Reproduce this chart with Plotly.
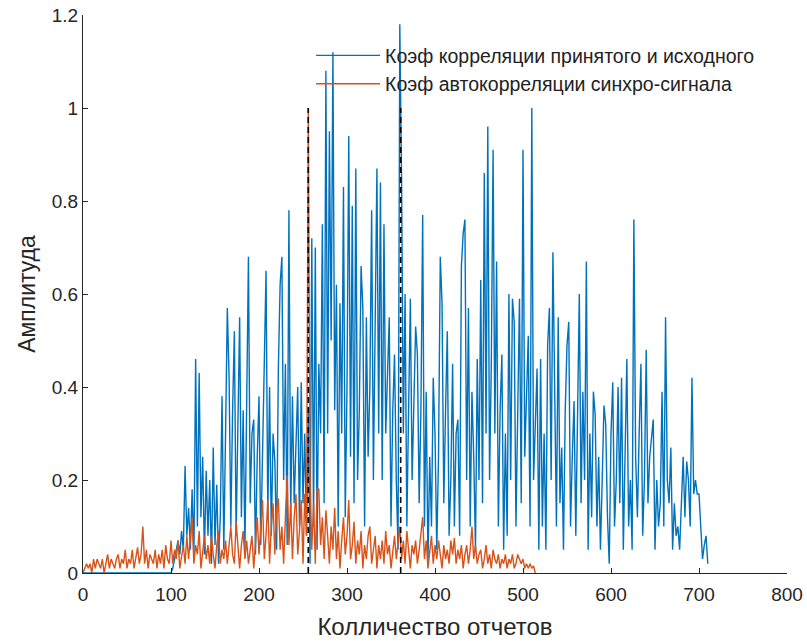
import plotly.graph_objects as go

# ---- data ----
blue_start = 0
blue_step = 2
blue_vals = (
    [0.0] * 50 +
    [0.00, 0.01, 0.03, 0.05, 0.07, 0.04, 0.09, 0.05, 0.23, 0.08,
     0.14, 0.05, 0.18, 0.03, 0.46, 0.10, 0.43, 0.12, 0.25, 0.04,
     0.22, 0.08, 0.20, 0.02, 0.27, 0.06, 0.19, 0.02, 0.12, 0.38,
     0.05, 0.30, 0.57, 0.42, 0.10, 0.35, 0.52, 0.08, 0.30, 0.55,
     0.12, 0.35, 0.05, 0.40, 0.68, 0.15, 0.30, 0.33, 0.04, 0.25,
     0.38, 0.06, 0.30, 0.45, 0.65, 0.12, 0.40, 0.08, 0.30, 0.24,
     0.05, 0.44, 0.62, 0.68, 0.20, 0.45, 0.06, 0.78, 0.12, 0.38,
     0.15, 0.30, 0.40, 0.10, 0.41, 0.15, 0.30, 0.08, 0.35, 0.02,
     0.72, 0.10, 0.70, 0.05, 0.45, 0.30, 0.75, 0.15, 1.08, 0.30,
     0.95, 0.50, 1.12, 0.35, 0.62, 0.10, 0.58, 0.30, 0.83, 0.12,
     0.40, 0.94, 0.25, 0.79, 0.15, 0.87, 0.20, 0.35, 0.66, 0.57,
     0.10, 0.55, 0.25, 0.40, 0.78, 0.20, 0.50, 0.87, 0.30, 0.84,
     0.20, 0.75, 0.30, 0.45, 0.55, 0.10, 0.35, 0.47, 0.20, 0.05,
     1.18, 0.85, 0.30, 0.60, 0.10, 0.35, 0.59, 0.20, 0.40, 0.53,
     0.47, 0.15, 0.35, 0.77, 0.10, 0.39, 0.02, 0.25, 0.10, 0.42,
     0.30, 0.05, 0.25, 0.68, 0.58, 0.15, 0.35, 0.52, 0.08, 0.20,
     0.45, 0.10, 0.30, 0.33, 0.08, 0.66, 0.73, 0.76, 0.20, 0.57,
     0.10, 0.39, 0.25, 0.05, 0.46, 0.20, 0.63, 0.15, 0.86, 0.30,
     0.96, 0.20, 0.45, 0.91, 0.30, 0.67, 0.10, 0.35, 0.47, 0.05,
     0.30, 0.08, 0.60, 0.20, 0.59, 0.54, 0.10, 0.35, 0.59, 0.15,
     0.91, 0.25, 0.40, 0.51, 0.10, 1.00, 0.20, 0.35, 0.44, 0.05,
     0.46, 0.10, 0.30, 0.05, 0.49, 0.57, 0.20, 0.69, 0.33, 0.10,
     0.55, 0.15, 0.27, 0.05, 0.35, 0.49, 0.54, 0.10, 0.25, 0.37,
     0.08, 0.30, 0.60, 0.15, 0.39, 0.20, 0.67, 0.05, 0.30, 0.12,
     0.39, 0.34, 0.10, 0.25, 0.05, 0.20, 0.36, 0.32, 0.12, 0.02,
     0.30, 0.41, 0.10, 0.20, 0.40, 0.15, 0.42, 0.05, 0.25, 0.46,
     0.10, 0.20, 0.05, 0.76, 0.25, 0.12, 0.30, 0.45, 0.08, 0.20,
     0.48, 0.15, 0.25, 0.30, 0.33, 0.05, 0.20, 0.10, 0.15, 0.39,
     0.10, 0.55, 0.20, 0.15, 0.27, 0.05, 0.15, 0.08, 0.10, 0.05,
     0.15, 0.25, 0.12, 0.24, 0.20, 0.10, 0.42, 0.17, 0.20, 0.17,
     0.17, 0.10, 0.03, 0.06, 0.08, 0.02]
)

orange_start = 0
orange_step = 2
orange_vals = [
    0.00, 0.01, 0.02, 0.01, 0.02, 0.00, 0.03, 0.01, 0.03, 0.02,
    0.01, 0.03, 0.00, 0.02, 0.04, 0.01, 0.03, 0.02, 0.01, 0.03,
    0.04, 0.01, 0.03, 0.02, 0.05, 0.01, 0.03, 0.02, 0.05, 0.01,
    0.03, 0.055, 0.02, 0.04, 0.10, 0.02, 0.05, 0.01, 0.04, 0.03,
    0.02, 0.05, 0.01, 0.04, 0.02, 0.05, 0.01, 0.06, 0.03, 0.02,
    0.07, 0.02, 0.05, 0.03, 0.07, 0.01, 0.04, 0.06, 0.02, 0.08,
    0.03, 0.07, 0.12, 0.02, 0.06, 0.04, 0.09, 0.01, 0.05, 0.08,
    0.03, 0.06, 0.02, 0.08, 0.04, 0.01, 0.06, 0.09, 0.02, 0.05,
    0.03, 0.07, 0.02, 0.06, 0.10, 0.04, 0.02, 0.11, 0.05, 0.01,
    0.06, 0.09, 0.03, 0.07, 0.02, 0.05, 0.08, 0.01, 0.06, 0.12,
    0.04, 0.09, 0.157, 0.03, 0.08, 0.157, 0.02, 0.10, 0.15, 0.04,
    0.14, 0.16, 0.05, 0.10, 0.02, 0.12, 0.21, 0.06, 0.15, 0.03,
    0.12, 0.17, 0.04, 0.09, 0.157, 0.02, 0.17, 0.08, 1.00, 0.21,
    0.05, 0.15, 0.02, 0.18, 0.18, 0.06, 0.12, 0.03, 0.135, 0.08,
    0.02, 0.10, 0.05, 0.14, 0.03, 0.09, 0.01, 0.07, 0.12, 0.04,
    0.08, 0.157, 0.03, 0.06, 0.11, 0.02, 0.07, 0.04, 0.09, 0.01,
    0.06, 0.03, 0.08, 0.10, 0.02, 0.05, 0.08, 0.01, 0.06, 0.03,
    0.07, 0.02, 0.09, 0.04, 0.06, 0.01, 0.05, 0.08, 0.03, 0.06,
    0.10, 0.03, 0.07, 0.02, 0.09, 0.05, 0.01, 0.06, 0.04, 0.07,
    0.02, 0.05, 0.09, 0.12, 0.03, 0.07, 0.01, 0.05, 0.08, 0.02,
    0.06, 0.03, 0.07, 0.04, 0.01, 0.06, 0.03, 0.05, 0.02, 0.07,
    0.04, 0.075, 0.02, 0.05, 0.03, 0.06, 0.01, 0.04, 0.06, 0.02,
    0.05, 0.10, 0.03, 0.06, 0.02, 0.04, 0.05, 0.01, 0.03, 0.06,
    0.02, 0.04, 0.01, 0.05, 0.03, 0.02, 0.04, 0.01, 0.03, 0.02,
    0.04, 0.01, 0.03, 0.02, 0.04, 0.01, 0.02, 0.04, 0.03, 0.02,
    0.03, 0.01, 0.02, 0.01, 0.02, 0.01, 0.015, 0.0,
]

sync_positions = [256, 361]
sync_level = [0, 1]

names = ["Коэф корреляции принятого и исходного",
         "Коэф автокорреляции синхро-сигнала"]
x_title = "Колличество отчетов"
y_title = "Амплитуда"
x_ticks = [0, 100, 200, 300, 400, 500, 600, 700, 800]
y_ticks = [0, 0.2, 0.4, 0.6, 0.8, 1.0, 1.2]
y_ticktext = ["0", "0.2", "0.4", "0.6", "0.8", "1", "1.2"]

blue_x = [blue_start + i * blue_step for i in range(len(blue_vals))]
orange_x = [orange_start + i * orange_step for i in range(len(orange_vals))]

FONT = "Liberation Sans, Arial, sans-serif"
AX = "#262626"

fig = go.Figure()
fig.add_trace(go.Scatter(x=blue_x, y=blue_vals, mode="lines", name=names[0],
                         line=dict(color="#0072BD", width=1.4)))
fig.add_trace(go.Scatter(x=orange_x, y=orange_vals, mode="lines", name=names[1],
                         line=dict(color="#D95319", width=1.4)))
for p in sync_positions:
    fig.add_trace(go.Scatter(x=[p, p], y=sync_level, mode="lines", showlegend=False,
                             line=dict(color="black", width=1.6, dash="6px,4px")))

fig.update_layout(
    width=807, height=644,
    margin=dict(l=83, r=20, t=15, b=71),
    paper_bgcolor="white", plot_bgcolor="white",
    font=dict(family=FONT, color=AX),
    showlegend=True,
    legend=dict(x=0.324, y=0.962, xanchor="left", yanchor="top",
                bgcolor="rgba(0,0,0,0)", borderwidth=0,
                font=dict(size=19.5, color="#222222"),
                itemwidth=64),
)
fig.update_xaxes(range=[0, 800], tickvals=x_ticks, ticks="inside", ticklen=5,
                 tickcolor=AX, showline=True, linecolor=AX, linewidth=1,
                 mirror=False, showgrid=False, zeroline=False, automargin=False,
                 tickfont=dict(size=19, color=AX), ticklabelstandoff=4,
                 ticklabeloverflow="allow",
                 title=dict(text=x_title, font=dict(size=24, color=AX), standoff=14))
fig.update_yaxes(range=[0, 1.2], tickvals=y_ticks, ticktext=y_ticktext,
                 ticks="inside", ticklen=5,
                 tickcolor=AX, showline=True, linecolor=AX, linewidth=1,
                 mirror=False, showgrid=False, zeroline=False, automargin=False,
                 tickfont=dict(size=19, color=AX), ticklabeloverflow="allow",
                 title=dict(text=y_title, font=dict(size=23, color=AX), standoff=9))

# remove the default page margin so the 807x644 figure fills the window exactly
fig.write_html("out.html",
               config={"displayModeBar": False},
               post_script="document.body.style.margin='0';")
